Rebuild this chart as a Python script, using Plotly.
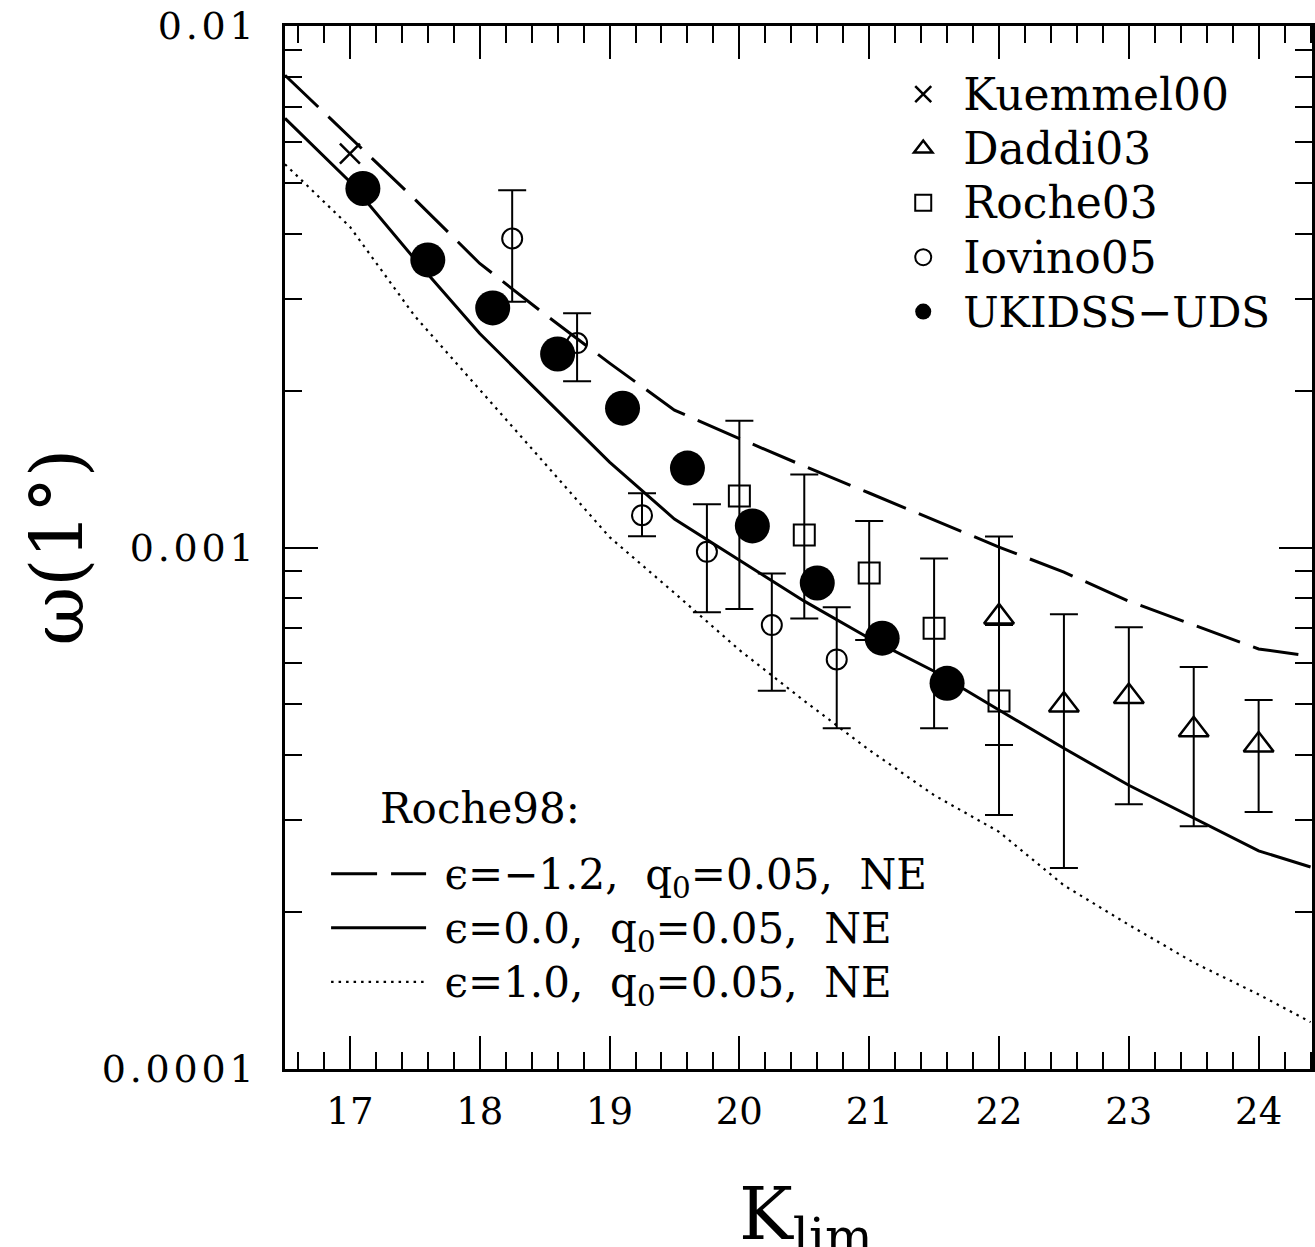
import plotly.graph_objects as go

# ---------------- data ----------------
# Roche98 model curves
model_k = [16.5, 17.0, 17.5, 18.0, 18.5, 19.0, 19.5, 20.0, 20.5, 21.0, 21.5,
           22.0, 22.5, 23.0, 23.5, 24.0, 24.4]
model_eps_m12 = [0.008045, 0.006110, 0.004654, 0.003505, 0.002802, 0.002257, 0.001834,
                 0.001618, 0.001432, 0.001272, 0.001129, 0.001002, 0.000897, 0.000789,
                 0.000710, 0.000639, 0.000619]
model_eps_00 = [0.006653, 0.005027, 0.003571, 0.002573, 0.001936, 0.001458, 0.001134,
                0.000946, 0.000789, 0.000670, 0.000579, 0.000488, 0.000412, 0.000350,
                0.000303, 0.000262, 0.000244]
model_eps_10 = [0.005431, 0.004121, 0.002777, 0.002012, 0.001451, 0.001047, 0.000818,
                0.000636, 0.000508, 0.000409, 0.000335, 0.000285, 0.000225, 0.000189,
                0.000160, 0.000139, 0.000123]

# Kuemmel00
kue_k = [17.0]
kue_w = [0.00569]

# Daddi03
dad_k = [22.0, 22.5, 23.0, 23.5, 24.0]
dad_w = [0.000736, 0.000499, 0.000518, 0.000447, 0.000418]
dad_hi = [0.00105, 0.000745, 0.000703, 0.000590, 0.000510]
dad_lo = [0.000418, 0.000243, 0.000322, 0.000292, 0.000311]

# Roche03
roc_k = [20.0, 20.5, 21.0, 21.5, 22.0]
roc_w = [0.001255, 0.001057, 0.000894, 0.000700, 0.000508]
roc_hi = [0.00175, 0.00138, 0.001124, 0.000953, 0.00071]
roc_lo = [0.000762, 0.000731, 0.000665, 0.000450, 0.000307]

# Iovino05
iov_k = [18.25, 18.75, 19.25, 19.75, 20.25, 20.75]
iov_w = [0.003913, 0.002466, 0.001153, 0.000981, 0.000710, 0.000610]
iov_hi = [0.00484, 0.002813, 0.00127, 0.00121, 0.000892, 0.000768]
iov_lo = [0.00296, 0.002084, 0.001051, 0.000751, 0.000531, 0.000450]

# UKIDSS-UDS
uds_k = [17.1, 17.6, 18.1, 18.6, 19.1, 19.6, 20.1, 20.6, 21.1, 21.6]
uds_w = [0.00488, 0.00356, 0.00288, 0.00235, 0.00185, 0.00142, 0.00110,
         0.000855, 0.000670, 0.000549]

x_tick_vals = [17, 18, 19, 20, 21, 22, 23, 24]
x_tick_text = ["17", "18", "19", "20", "21", "22", "23", "24"]
y_tick_vals = [0.0001, 0.001, 0.01]
y_tick_text = ["0.0001", "0.001", "0.01"]

# ---------------- figure ----------------
FONT = "DejaVu Serif"
HS = "\u200a"
NB = "\u00a0"


def spaced(s):
    return HS.join(list(s))


def big(s, px):
    return '<span style="font-size:%dpx">%s</span>' % (px, s)


def err(vals, hi, lo):
    return dict(type="data", symmetric=False,
                array=[h - v for v, h in zip(vals, hi)],
                arrayminus=[v - l for v, l in zip(vals, lo)],
                color="black", thickness=2, width=14)


def model_name(eps):
    return big(NB + "ϵ=" + eps + "," + NB + NB + "q<sub>0</sub>=0.05," + NB + NB + "NE", 42)


fig = go.Figure()

fig.add_trace(go.Scatter(
    x=model_k, y=model_eps_m12, mode="lines", legend="legend2",
    name=model_name("−1.2"),
    line=dict(color="black", width=3, dash="46px,14px")))
fig.add_trace(go.Scatter(
    x=model_k, y=model_eps_00, mode="lines", legend="legend2",
    name=model_name("0.0"),
    line=dict(color="black", width=3)))
fig.add_trace(go.Scatter(
    x=model_k, y=model_eps_10, mode="lines", legend="legend2",
    name=model_name("1.0"),
    line=dict(color="black", width=2.2, dash="2.5px,5px")))

fig.add_trace(go.Scatter(
    x=kue_k, y=kue_w, mode="markers", name=big("Kuemmel00", 44),
    marker=dict(symbol="x-thin", size=20, color="black",
                line=dict(color="black", width=2.5))))
fig.add_trace(go.Scatter(
    x=dad_k, y=dad_w, mode="markers", name=big("Daddi03", 44),
    error_y=err(dad_w, dad_hi, dad_lo),
    marker=dict(symbol="triangle-up-open", size=26, color="black",
                line=dict(color="black", width=2.5))))
fig.add_trace(go.Scatter(
    x=roc_k, y=roc_w, mode="markers", name=big("Roche03", 44),
    error_y=err(roc_w, roc_hi, roc_lo),
    marker=dict(symbol="square-open", size=21, color="black",
                line=dict(color="black", width=2))))
fig.add_trace(go.Scatter(
    x=iov_k, y=iov_w, mode="markers", name=big("Iovino05", 44),
    error_y=err(iov_w, iov_hi, iov_lo),
    marker=dict(symbol="circle-open", size=20, color="black",
                line=dict(color="black", width=2))))
fig.add_trace(go.Scatter(
    x=uds_k, y=uds_w, mode="markers", name=big("UKIDSS−UDS", 42),
    marker=dict(symbol="circle", size=35, color="black",
                line=dict(width=0))))

fig.update_layout(
    width=1315, height=1247,
    margin=dict(l=285, r=0, t=26, b=178),
    paper_bgcolor="white", plot_bgcolor="white",
    font=dict(family=FONT, color="black", size=36),
    showlegend=True,
    legend=dict(x=0.5825, y=0.9655, xanchor="left", yanchor="top",
                bgcolor="rgba(0,0,0,0)", font=dict(family=FONT, size=39.5),
                traceorder="normal", itemwidth=70, tracegroupgap=0),
    legend2=dict(x=0.040, y=0.218, xanchor="left", yanchor="top",
                 bgcolor="rgba(0,0,0,0)", font=dict(family=FONT, size=39.3),
                 traceorder="normal", itemwidth=95),
    xaxis=dict(range=[16.5, 24.411], showgrid=False, zeroline=False,
               showline=True, linecolor="black", linewidth=2.5, mirror="ticks",
               ticks="inside", ticklen=33, tickwidth=2, tickcolor="black",
               tickvals=x_tick_vals, ticktext=x_tick_text,
               tickfont=dict(family=FONT, size=37), ticklabelstandoff=8,
               minor=dict(ticks="inside", ticklen=17, tickwidth=2, tickcolor="black",
                          dtick=0.2, tick0=16.6, showgrid=False)),
    yaxis=dict(type="log", range=[-4, -2], showgrid=False, zeroline=False,
               showline=True, linecolor="black", linewidth=2.5, mirror="ticks",
               ticks="inside", ticklen=33, tickwidth=2, tickcolor="black",
               tickvals=y_tick_vals, ticktext=[spaced(t) for t in y_tick_text],
               tickfont=dict(family=FONT, size=38), ticklabelstandoff=21,
               minor=dict(ticks="inside", ticklen=17, tickwidth=2, tickcolor="black",
                          dtick="D1", showgrid=False)),
    annotations=[
        dict(text="K<sub>lim</sub>", xref="paper", yref="paper", x=0.507, y=0,
             xanchor="center", yanchor="top", yshift=-101, showarrow=False,
             font=dict(family=FONT, size=72)),
        dict(text="ω(1°)", xref="paper", yref="paper", x=0, y=0.5,
             xanchor="center", yanchor="middle", xshift=-228, textangle=-90,
             showarrow=False, font=dict(family=FONT, size=72)),
        dict(text="Roche98:", xref="paper", yref="paper", x=0.091, y=0.2495,
             xanchor="left", yanchor="middle", showarrow=False,
             font=dict(family=FONT, size=42)),
    ],
)

fig.write_html("out.html")
